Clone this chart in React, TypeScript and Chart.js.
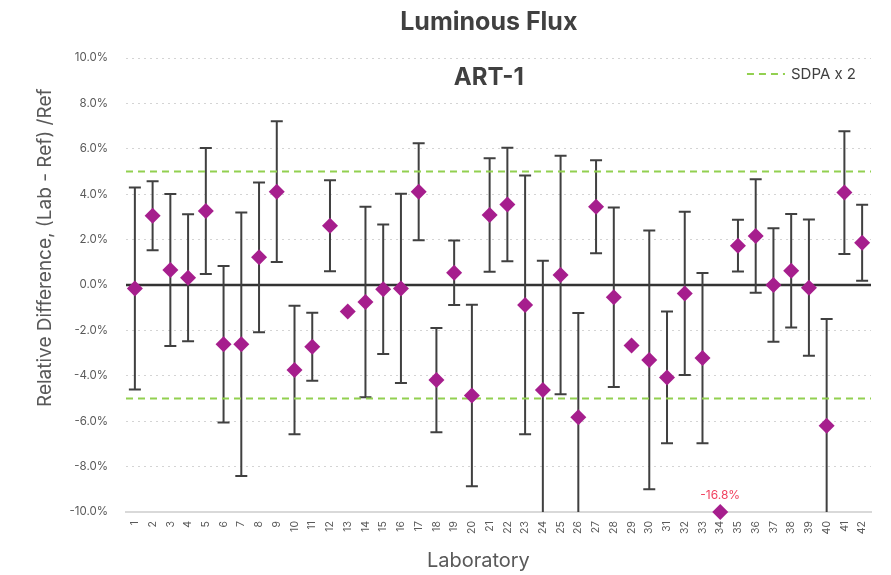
import React, { useEffect, useRef } from 'react';
import { Chart, registerables } from 'chart.js';

Chart.register(...registerables);

const chartTitle = 'Luminous Flux';
const chartSubtitle = 'ART-1';
const labs = ['1','2','3','4','5','6','7','8','9','10','11','12','13','14','15','16','17','18','19','20','21','22','23','24','25','26','27','28','29','30','31','32','33','34','35','36','37','38','39','40','41','42'];
// Relative difference (%) per laboratory
const relDiff = [-0.15, 3.05, 0.66, 0.32, 3.26, -2.61, -2.61, 1.22, 4.11, -3.74, -2.72, 2.61, -1.17, -0.75, -0.19, -0.15, 4.11, -4.19, 0.54, -4.87, 3.08, 3.55, -0.88, -4.63, 0.44, -5.83, 3.45, -0.54, -2.66, -3.3, -4.07, -0.37, -3.22, -16.8, 1.73, 2.16, 0.0, 0.63, -0.12, -6.2, 4.07, 1.86];
// Expanded uncertainty (%) per laboratory (null = not reported)
const uncert: (number | null)[] = [4.45, 1.52, 3.35, 2.8, 2.77, 3.45, 5.8, 3.3, 3.1, 2.83, 1.5, 2.0, null, 4.2, 2.85, 4.17, 2.14, 2.3, 1.42, 4.0, 2.5, 2.5, 5.7, 5.7, 5.25, 4.6, 2.05, 3.95, null, 5.7, 2.9, 3.6, 3.75, null, 1.14, 2.5, 2.5, 2.5, 3.0, 4.7, 2.7, 1.67];
const sdpaLimit = 5;
const sdpaLabel = 'SDPA x 2';
const yMin = -10;
const yMax = 10;
const yStep = 2;
const yTitle = 'Relative Difference, (Lab - Ref) /Ref';
const xTitle = 'Laboratory';

const FONT = 'Inter, "Noto Sans", sans-serif';
const POINT_COLOR = '#A61E8D';
const SDPA_COLOR = '#92D050';
const BAR_COLOR = '#404040';

const overlayPlugin = {
  id: 'overlay',
  beforeDatasetsDraw(chart: any) {
    const { ctx, chartArea: a, scales } = chart;
    const x = scales.x;
    const y = scales.y;
    ctx.save();
    const y0 = y.getPixelForValue(0);
    ctx.strokeStyle = '#333333';
    ctx.lineWidth = 2.5;
    ctx.beginPath();
    ctx.moveTo(a.left, y0);
    ctx.lineTo(a.right, y0);
    ctx.stroke();

    ctx.beginPath();
    ctx.rect(a.left, a.top - 2, a.right - a.left, a.bottom - a.top + 2);
    ctx.clip();
    ctx.strokeStyle = BAR_COLOR;
    ctx.lineWidth = 2;
    relDiff.forEach((v, i) => {
      const e = uncert[i];
      if (e == null) return;
      const px = x.getPixelForValue(i);
      const hi = y.getPixelForValue(v + e);
      const lo = y.getPixelForValue(v - e);
      ctx.beginPath();
      ctx.moveTo(px, hi);
      ctx.lineTo(px, lo);
      ctx.moveTo(px - 6, hi);
      ctx.lineTo(px + 6, hi);
      ctx.moveTo(px - 6, lo);
      ctx.lineTo(px + 6, lo);
      ctx.stroke();
    });
    ctx.restore();
  },
  afterDatasetsDraw(chart: any) {
    const { ctx, chartArea: a, scales } = chart;
    const x = scales.x;
    const y = scales.y;
    ctx.save();
    // out-of-range labels
    ctx.fillStyle = '#F0405E';
    ctx.font = `12px ${FONT}`;
    ctx.textAlign = 'center';
    ctx.textBaseline = 'middle';
    relDiff.forEach((v, i) => {
      if (v < yMin) {
        const px = x.getPixelForValue(i);
        const py = y.getPixelForValue(yMin);
        ctx.fillText(`${v.toFixed(1)}%`, px, py - 17);
      }
    });
    // titles
    const cx = a.left + (a.right - a.left) * 0.487;
    ctx.fillStyle = '#404040';
    ctx.font = `bold 25px ${FONT}`;
    ctx.fillText(chartTitle, cx, 22);
    ctx.font = `bold 24px ${FONT}`;
    ctx.fillText(chartSubtitle, cx, a.top + 20);
    // axis titles
    ctx.fillStyle = '#595959';
    ctx.font = `20px ${FONT}`;
    ctx.fillText(xTitle, a.left + (a.right - a.left) * 0.473, 561);
    ctx.save();
    ctx.translate(45, a.top + (a.bottom - a.top) * 0.418);
    ctx.rotate(-Math.PI / 2);
    ctx.font = `19px ${FONT}`;
    ctx.fillText(yTitle, 0, 0);
    ctx.restore();
    // legend
    ctx.font = `15px ${FONT}`;
    ctx.textAlign = 'left';
    const tw = ctx.measureText(sdpaLabel).width;
    const tx = a.right - 15 - tw;
    const ly = a.top + 16;
    ctx.fillStyle = '#404040';
    ctx.fillText(sdpaLabel, tx, ly);
    ctx.strokeStyle = SDPA_COLOR;
    ctx.lineWidth = 2;
    ctx.setLineDash([7, 5]);
    ctx.beginPath();
    ctx.moveTo(tx - 44, ly);
    ctx.lineTo(tx - 6, ly);
    ctx.stroke();
    ctx.restore();
  },
};

export default function App() {
  const canvasRef = useRef<HTMLCanvasElement | null>(null);

  useEffect(() => {
    if (!canvasRef.current) return;
    const sdpaData = (v: number) => [{ x: 0, y: v }, { x: 1, y: v }];
    const chart = new Chart(canvasRef.current, {
      type: 'line',
      data: {
        labels: labs,
        datasets: [
          {
            label: 'Laboratory',
            data: relDiff.map((v) => Math.max(v, yMin)),
            showLine: false,
            pointStyle: 'rectRot',
            pointRadius: 8,
            pointHoverRadius: 8,
            pointBackgroundColor: POINT_COLOR,
            pointBorderColor: POINT_COLOR,
            pointBorderWidth: 0,
            clip: false as any,
          },
          {
            label: sdpaLabel,
            data: sdpaData(sdpaLimit) as any,
            xAxisID: 'x2',
            borderColor: SDPA_COLOR,
            borderWidth: 2,
            borderDash: [7, 5],
            pointRadius: 0,
            fill: false,
          },
          {
            label: sdpaLabel + ' (lower)',
            data: sdpaData(-sdpaLimit) as any,
            xAxisID: 'x2',
            borderColor: SDPA_COLOR,
            borderWidth: 2,
            borderDash: [7, 5],
            pointRadius: 0,
            fill: false,
          },
        ],
      },
      options: {
        animation: false,
        responsive: true,
        maintainAspectRatio: false,
        layout: { padding: { top: 58, right: 20, left: 0, bottom: 0 } },
        plugins: {
          legend: { display: false },
          tooltip: { enabled: false },
          title: { display: false },
        },
        scales: {
          x: {
            type: 'category',
            offset: true,
            grid: { display: false, drawTicks: false },
            border: { display: true, color: '#D9D9D9', width: 2 },
            ticks: {
              autoSkip: false,
              maxRotation: 90,
              minRotation: 90,
              padding: 9,
              color: '#595959',
              font: { family: FONT, size: 10.5 },
            },
            afterFit(scale: any) {
              scale.height = 63;
            },
          },
          x2: {
            type: 'linear',
            display: false,
            min: 0,
            max: 1,
          },
          y: {
            type: 'linear',
            min: yMin,
            max: yMax,
            ticks: {
              stepSize: yStep,
              padding: 18,
              color: '#595959',
              font: { family: FONT, size: 11.5 },
              callback: (v: any) => `${Number(v).toFixed(1)}%`,
            },
            grid: { color: '#D4D4D4', lineWidth: 1, drawTicks: false },
            border: { display: false, dash: [2, 4] },
            afterFit(scale: any) {
              scale.width = 126;
            },
          },
        },
      },
      plugins: [overlayPlugin],
    });
    return () => chart.destroy();
  }, []);

  return (
    <div style={{ position: 'fixed', left: 0, top: 0, width: 891, height: 575, background: '#ffffff' }}>
      <canvas ref={canvasRef} />
    </div>
  );
}
